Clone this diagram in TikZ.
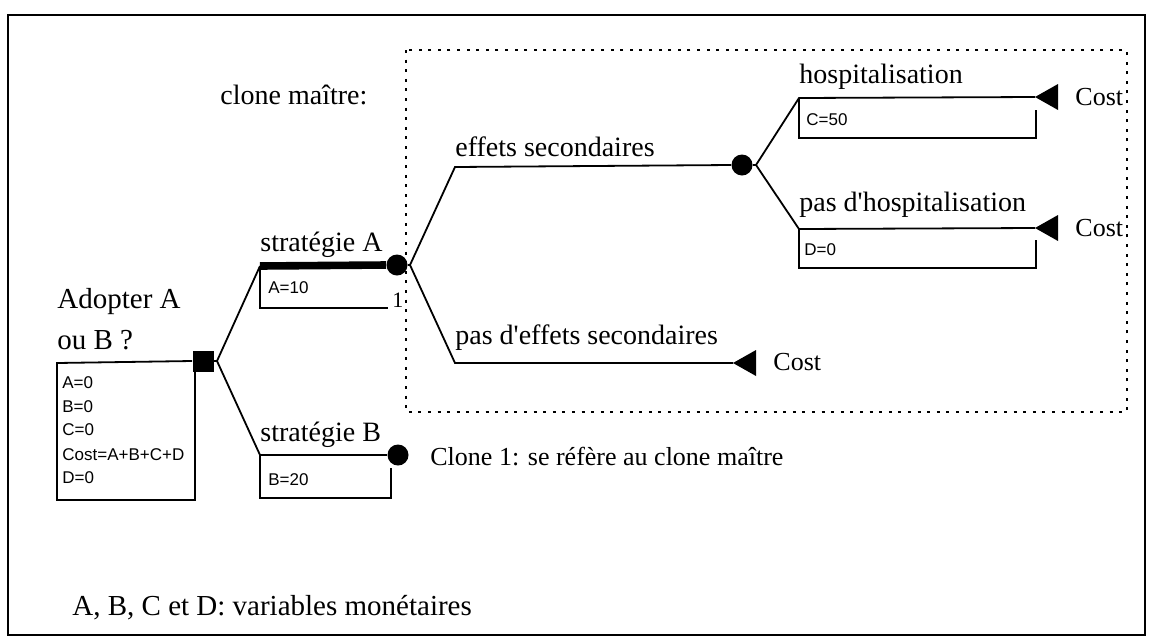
\documentclass[tikz,border=0pt]{standalone}
\usepackage{fontspec}
\setmainfont{Liberation Serif}
\newfontfamily\boxfont{Liberation Sans}
\begin{document}
\begin{tikzpicture}[x=0.5pt,y=-0.5pt,
  lbl/.style={font=\fontsize{14}{16}\selectfont, anchor=west, inner sep=0},
  costlbl/.style={font=\fontsize{13}{15}\selectfont, anchor=west, inner sep=0},
  val/.style={font=\boxfont\fontsize{8.5}{10}\selectfont, anchor=west, inner sep=0},
  branch/.style={line width=0.9pt},
  thickbranch/.style={line width=3.8pt},
  chance/.style={circle, fill=black, minimum size=10.5pt, inner sep=0},
  decision/.style={rectangle, fill=black, minimum size=10.5pt, inner sep=0},
  endtri/.style={fill=black}]
\useasboundingbox (0,0) rectangle (1151,638);
% frames
\draw[line width=1.1pt] (8,15) rectangle (1145,635);
\draw[line width=1.3pt, dash pattern=on 1.5pt off 3.3pt] (406,50) rectangle (1127,412);
% nodes
\node[decision] (dec) at (203,361) {};
\node[chance] (chA) at (397,265) {};
\node[chance] (chB) at (398,455) {};
\node[chance] (chE) at (742,165) {};
% coordinates
\coordinate (vD) at (217,361);
\coordinate (sA) at (260,266);
\coordinate (sB) at (260,455);
\coordinate (vA) at (410,265);
\coordinate (eS) at (455,167);
\coordinate (pE) at (455,363);
\coordinate (vE) at (756,165);
\coordinate (hS) at (799,98);
\coordinate (pH) at (799,229);
\coordinate (tP) at (733,363);
\coordinate (tH) at (1035,97);
\coordinate (tN) at (1035,228);
% terminal triangles
\fill[endtri] (tP) -- ++(23,-13) -- ++(0,26) -- cycle;
\fill[endtri] (tH) -- ++(23,-13) -- ++(0,26) -- cycle;
\fill[endtri] (tN) -- ++(23,-13) -- ++(0,26) -- cycle;
% branches
\draw[branch] (dec.east) -- (vD) -- (sA);
\draw[branch] (vD) -- (sB);
\draw[thickbranch] (sA) -- (chA.west);
\draw[branch] (sB) -- (chB.west);
\draw[branch] (chA.east) -- (vA) -- (eS) -- (chE.west);
\draw[branch] (vA) -- (pE) -- (tP);
\draw[branch] (chE.east) -- (vE) -- (hS) -- (tH);
\draw[branch] (vE) -- (pH) -- (tN);
% value boxes
\draw[branch] (dec.west) -- (57,363) -- (57,500) -- (195,500) -- (195,372);
\draw[branch] (sA) -- (260,308) -- (388,308);
\draw[branch] (sB) -- (260,498) -- (391,498) -- (391,468);
\draw[branch] (hS) -- (799,138) -- (1036,138) -- (1036,110);
\draw[branch] (pH) -- (799,268) -- (1036,268) -- (1036,240);
% labels
\node[lbl] (clm) at (220,95) {clone maître:};
\node[lbl, font=\fontsize{14.5}{16}\selectfont] (adA) at (57,302) {Adopter A};
\node[lbl, font=\fontsize{14.5}{16}\selectfont] (adB) at (57,340) {ou B ?};
\node[lbl] (stA) at (260,245) {stratégie A};
\node[lbl] (stB) at (260,435) {stratégie B};
\node[lbl] (es) at (455,147) {effets secondaires};
\node[lbl] (pes) at (455,338) {pas d\textquotesingle effets secondaires};
\node[lbl] (hos) at (799,77) {hospitalisation};
\node[lbl] (phos) at (799,205) {pas d\textquotesingle hospitalisation};
\node[costlbl] (c1) at (1075,97) {Cost};
\node[costlbl] (c2) at (1075,228) {Cost};
\node[costlbl] (c3) at (773,362) {Cost};
\node[costlbl] (cl1) at (430,457) {Clone 1: se réfère au clone maître};
\node[lbl, font=\fontsize{14.5}{16}\selectfont] (note) at (72,608) {A, B, C et D: variables monétaires};
\node[lbl, font=\fontsize{11}{12}\selectfont] (one) at (392,300) {1};
% values
\node[val] (v1) at (62,383) {A=0};
\node[val] (v2) at (62,407) {B=0};
\node[val] (v3) at (62,430) {C=0};
\node[val] (v4) at (62,455) {Cost=A+B+C+D};
\node[val] (v5) at (62,478) {D=0};
\node[val] (vA10) at (268,288) {A=10};
\node[val] (vB20) at (268,480) {B=20};
\node[val] (vC50) at (806,120) {C=50};
\node[val] (vD0) at (804,250) {D=0};
\end{tikzpicture}
\end{document}
